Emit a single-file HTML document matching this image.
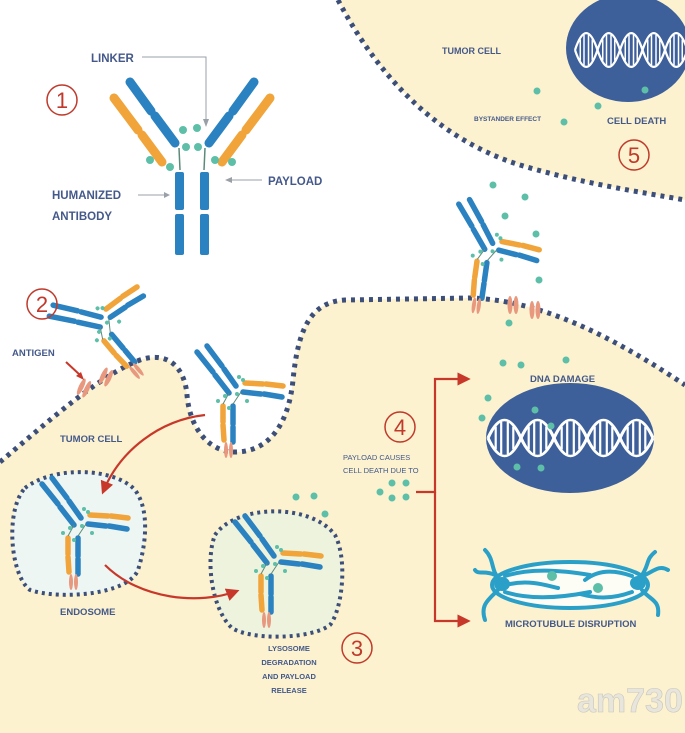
<!DOCTYPE html>
<html><head><meta charset="utf-8"><style>
html,body{margin:0;padding:0;background:#fff}
svg{display:block}
text{font-family:"Liberation Sans",sans-serif;font-weight:bold;fill:#44598a}
</style></head><body>
<svg width="685" height="733" viewBox="0 0 685 733" xmlns="http://www.w3.org/2000/svg">
<defs>
<g id="ab">
 <g stroke-linecap="round" stroke-width="9" fill="none">
  <line x1="-62" y1="-88" x2="-41" y2="-59" stroke="#2a82c0"/>
  <line x1="-37" y1="-54" x2="-17" y2="-27" stroke="#2a82c0"/>
  <line x1="-78" y1="-72" x2="-54" y2="-40" stroke="#f0a43a"/>
  <line x1="-50" y1="-35" x2="-30" y2="-8" stroke="#f0a43a"/>
  <line x1="62" y1="-88" x2="41" y2="-59" stroke="#2a82c0"/>
  <line x1="37" y1="-54" x2="17" y2="-27" stroke="#2a82c0"/>
  <line x1="78" y1="-72" x2="54" y2="-40" stroke="#f0a43a"/>
  <line x1="50" y1="-35" x2="30" y2="-8" stroke="#f0a43a"/>
 </g>
 <g stroke="#5b8a7a" stroke-width="1.5"><line x1="-13" y1="-22" x2="-12" y2="0"/><line x1="13" y1="-22" x2="12" y2="0"/></g>
 <rect x="-17" y="2" width="9" height="38" rx="2" fill="#2a82c0"/>
 <rect x="-17" y="44" width="9" height="41" rx="2" fill="#2a82c0"/>
 <rect x="8" y="2" width="9" height="38" rx="2" fill="#2a82c0"/>
 <rect x="8" y="44" width="9" height="41" rx="2" fill="#2a82c0"/>
 <g fill="#5dbfa8">
  <circle cx="-42" cy="-10" r="4"/><circle cx="-22" cy="-3" r="4"/><circle cx="-9" cy="-40" r="4"/><circle cx="5" cy="-42" r="4"/>
  <circle cx="-6" cy="-23" r="4"/><circle cx="6" cy="-23" r="4"/><circle cx="23" cy="-10" r="4"/><circle cx="40" cy="-8" r="4"/>
 </g>
</g>
<g id="ab2">
 <g stroke-linecap="round" stroke-width="5.5" fill="none">
  <line x1="-38" y1="-46" x2="-22" y2="-26" stroke="#2a82c0"/>
  <line x1="-20" y1="-23" x2="-6" y2="-5" stroke="#2a82c0"/>
  <line x1="-28" y1="-52" x2="-13" y2="-32" stroke="#2a82c0"/>
  <line x1="-11" y1="-29" x2="1" y2="-12" stroke="#2a82c0"/>
  <line x1="10" y1="-15" x2="28" y2="-14" stroke="#f0a43a"/>
  <line x1="31" y1="-14" x2="48" y2="-12" stroke="#f0a43a"/>
  <line x1="8" y1="-6" x2="26" y2="-4" stroke="#2a82c0"/>
  <line x1="29" y1="-4" x2="47" y2="-1" stroke="#2a82c0"/>
  <line x1="-12" y1="8" x2="-12" y2="24" stroke="#f0a43a"/>
  <line x1="-12" y1="27" x2="-11" y2="42" stroke="#f0a43a"/>
  <line x1="-2" y1="8" x2="-2" y2="26" stroke="#2a82c0"/>
  <line x1="-2" y1="29" x2="-2" y2="44" stroke="#2a82c0"/>
 </g>
 <g stroke="#5b8a7a" stroke-width="1"><line x1="-6" y1="-5" x2="-12" y2="6"/><line x1="6" y1="-6" x2="-2" y2="6"/></g>
 <g fill="#5dbfa8">
  <circle cx="-17" cy="3" r="2"/><circle cx="-10" cy="-2" r="2"/><circle cx="2" cy="-4" r="2"/><circle cx="8" cy="-18" r="2"/><circle cx="4" cy="-21" r="2"/><circle cx="12" cy="3" r="2"/><circle cx="-6" cy="10" r="2"/>
 </g>
 <g fill="#e8987e"><ellipse cx="-9" cy="52" rx="2" ry="8"/><ellipse cx="-4" cy="52" rx="2" ry="8"/></g>
</g>
<g id="ag"><ellipse cx="-3" cy="0" rx="2.5" ry="9" fill="#e8987e"/><ellipse cx="3" cy="0" rx="2.5" ry="9" fill="#e8987e"/></g>
<g id="dna" fill="none" stroke="#fff" stroke-width="3">
 <path d="M0,0 C10,-30 20,-30 30,0 S50,30 60,0 S80,-30 90,0 S110,30 120,0 S140,-30 150,0"/>
 <path d="M0,0 C10,30 20,30 30,0 S50,-30 60,0 S80,30 90,0 S110,-30 120,0 S140,30 150,0"/>
 <g stroke-width="2">
  <path d="M7,-14V14M12,-20V20M18,-20V20M23,-14V14M37,-14V14M42,-20V20M48,-20V20M53,-14V14M67,-14V14M72,-20V20M78,-20V20M83,-14V14M97,-14V14M102,-20V20M108,-20V20M113,-14V14M127,-14V14M132,-20V20M138,-20V20M143,-14V14"/>
 </g>
</g>
<marker id="ar" viewBox="0 0 10 10" refX="8" refY="5" markerWidth="6" markerHeight="6" orient="auto"><path d="M0,0L10,5L0,10z" fill="#c8382a"/></marker>
</defs>

<!-- top-right cell -->
<path d="M338,0 C380,80 440,140 520,165 C580,183 640,192 685,200 L685,0Z" fill="#fcf2cf"/>
<path d="M338,0 C380,80 440,140 520,165 C580,183 640,192 685,200" fill="none" stroke="#3d4f78" stroke-width="5" stroke-dasharray="4 5"/>
<!-- main cell -->
<path d="M0,462 C50,420 100,375 140,360 C170,350 185,370 187,395 C190,430 210,452 235,452 C265,452 288,430 293,380 C298,330 310,302 345,300 L470,298 C540,300 610,335 685,385 L685,733 L0,733Z" fill="#fcf2cf"/>
<path d="M0,462 C50,420 100,375 140,360 C170,350 185,370 187,395 C190,430 210,452 235,452 C265,452 288,430 293,380 C298,330 310,302 345,300 L470,298 C540,300 610,335 685,385" fill="none" stroke="#3d4f78" stroke-width="5" stroke-dasharray="4 5"/>

<!-- nuclei -->
<ellipse cx="628" cy="48" rx="62" ry="54" fill="#3d5f9a"/>
<use href="#dna" transform="translate(575,50) scale(0.75,0.75)"/>
<ellipse cx="570" cy="438" rx="84" ry="55" fill="#3d5f9a"/>
<use href="#dna" transform="translate(488,438) scale(1.1,0.8)"/>

<!-- endosome / lysosome -->
<path d="M25,488 C55,465 115,468 135,490 C150,510 146,545 138,570 C128,595 60,600 30,590 C10,575 5,510 25,488Z" fill="#eef6f4" stroke="#3d4f78" stroke-width="4" stroke-dasharray="3 4"/>
<path d="M215,535 C235,505 310,502 335,535 C348,560 342,610 330,625 C310,640 250,640 232,628 C212,610 205,560 215,535Z" fill="#eef3de" stroke="#3d4f78" stroke-width="4" stroke-dasharray="3 4"/>

<!-- antibodies -->
<use href="#ab" transform="translate(192,170)"/>
<use href="#ab2" transform="translate(108,327) rotate(-40)"/>
<use href="#ab2" transform="translate(235,398)"/>
<use href="#ab2" transform="translate(80,530)"/>
<use href="#ab2" transform="translate(273,568)"/>
<use href="#ab2" transform="translate(490,255) rotate(8)"/>
<!-- antigens -->
<use href="#ag" transform="translate(84,388) rotate(25)"/>
<use href="#ag" transform="translate(106,377) rotate(25)"/>
<use href="#ag" transform="translate(513,305)"/>
<use href="#ag" transform="translate(535,310)"/>

<!-- payload dots -->
<g fill="#5dbfa8">
 <circle cx="537" cy="91" r="3.5"/><circle cx="598" cy="106" r="3.5"/><circle cx="564" cy="122" r="3.5"/><circle cx="645" cy="90" r="3.5"/>
 <circle cx="493" cy="185" r="3.5"/><circle cx="525" cy="197" r="3.5"/><circle cx="505" cy="216" r="3.5"/><circle cx="536" cy="234" r="3.5"/><circle cx="539" cy="280" r="3.5"/><circle cx="509" cy="323" r="3.5"/>
 <circle cx="503" cy="363" r="3.5"/><circle cx="521" cy="365" r="3.5"/><circle cx="566" cy="360" r="3.5"/><circle cx="488" cy="398" r="3.5"/><circle cx="482" cy="418" r="3.5"/>
 <circle cx="535" cy="410" r="3.5"/><circle cx="551" cy="426" r="3.5"/><circle cx="517" cy="467" r="3.5"/><circle cx="541" cy="468" r="3.5"/>
 <circle cx="392" cy="483" r="3.5"/><circle cx="406" cy="483" r="3.5"/><circle cx="380" cy="492" r="3.5"/><circle cx="392" cy="498" r="3.5"/><circle cx="406" cy="497" r="3.5"/>
 <circle cx="296" cy="497" r="3.5"/><circle cx="314" cy="496" r="3.5"/><circle cx="325" cy="514" r="3.5"/>
</g>

<!-- microtubule -->
<g fill="none" stroke="#2aa0c8" stroke-width="4" stroke-linecap="round">
 <ellipse cx="570" cy="585" rx="78" ry="23" fill="#fdfdf6"/>
 <path d="M505,576 C530,568 560,570 590,575M505,592 C530,600 560,598 590,592M510,584 C530,580 545,585 558,588M632,576 C610,568 595,572 585,580M632,592 C610,600 595,598 580,594"/>
 <path d="M500,580 C490,570 495,560 485,550M498,590 C488,600 480,605 485,620M495,575 C485,570 478,575 475,570M640,578 C650,565 645,560 655,552M642,590 C650,600 660,600 658,615M645,575 C655,570 660,565 668,570"/>
</g>
<g fill="#2aa0c8"><ellipse cx="502" cy="584" rx="8" ry="7"/><ellipse cx="638" cy="583" rx="8" ry="7"/></g>
<g fill="#5dbfa8"><circle cx="552" cy="576" r="5"/><circle cx="598" cy="588" r="5"/></g>

<!-- red arrows -->
<g fill="none" stroke="#c8382a" stroke-width="2.2">
 <path d="M205,415 C160,420 120,450 103,492" marker-end="url(#ar)"/>
 <path d="M105,565 C140,600 200,605 237,591" marker-end="url(#ar)"/>
 <path d="M416,492 H435 V379 H468" marker-end="url(#ar)"/>
 <path d="M435,492 V621 H468" marker-end="url(#ar)"/>
</g>
<g stroke="#9aa0a8" stroke-width="1" fill="none">
 <path d="M142,57 H206 V120"/>
 <path d="M138,195 H168"/>
 <path d="M262,180 H228"/>
</g>
<path d="M203,119 L206,127 L209,119Z M164,192 L170,195 L164,198Z M232,177 L225,180 L232,183Z" fill="#9aa0a8"/>
<path d="M66,362 L80,375" stroke="#c8382a" stroke-width="2"/><path d="M76,376 L84,380 L81,372Z" fill="#c8382a"/>

<!-- circled numbers -->
<g fill="none" stroke="#c0392b" stroke-width="1.5">
 <circle cx="62" cy="100" r="15"/><circle cx="42" cy="304" r="15"/><circle cx="357" cy="648" r="15"/><circle cx="400" cy="427" r="15"/><circle cx="634" cy="155" r="15"/>
</g>
<g font-size="22" text-anchor="middle">
 <text x="62" y="108" style="fill:#c0392b;font-weight:normal">1</text>
 <text x="42" y="312" style="fill:#c0392b;font-weight:normal">2</text>
 <text x="357" y="656" style="fill:#c0392b;font-weight:normal">3</text>
 <text x="400" y="435" style="fill:#c0392b;font-weight:normal">4</text>
 <text x="634" y="163" style="fill:#c0392b;font-weight:normal">5</text>
</g>

<!-- labels -->
<text x="91" y="62" font-size="11.5">LINKER</text>
<text x="268" y="185" font-size="11.5">PAYLOAD</text>
<text x="52" y="199" font-size="11.5">HUMANIZED</text>
<text x="52" y="220" font-size="11.5">ANTIBODY</text>
<text x="442" y="54" font-size="9">TUMOR CELL</text>
<text x="474" y="121" font-size="6.5">BYSTANDER EFFECT</text>
<text x="607" y="124" font-size="9.5">CELL DEATH</text>
<text x="12" y="356" font-size="9.5">ANTIGEN</text>
<text x="60" y="442" font-size="9.5">TUMOR CELL</text>
<text x="60" y="615" font-size="9.5">ENDOSOME</text>
<g font-size="7.5" text-anchor="middle"><text x="289" y="651">LYSOSOME</text><text x="289" y="665">DEGRADATION</text><text x="289" y="679">AND PAYLOAD</text><text x="289" y="693">RELEASE</text></g>
<text x="343" y="460" font-size="7.5" style="font-weight:normal">PAYLOAD CAUSES</text>
<text x="343" y="473" font-size="7.5" style="font-weight:normal">CELL DEATH DUE TO</text>
<text x="530" y="382" font-size="9.5">DNA DAMAGE</text>
<text x="505" y="627" font-size="9.5">MICROTUBULE DISRUPTION</text>
<text x="577" y="712" font-size="34" style="fill:#e8e6dc;stroke:#c9c6bb;stroke-width:0.6">am730</text>
</svg>
</body></html>
